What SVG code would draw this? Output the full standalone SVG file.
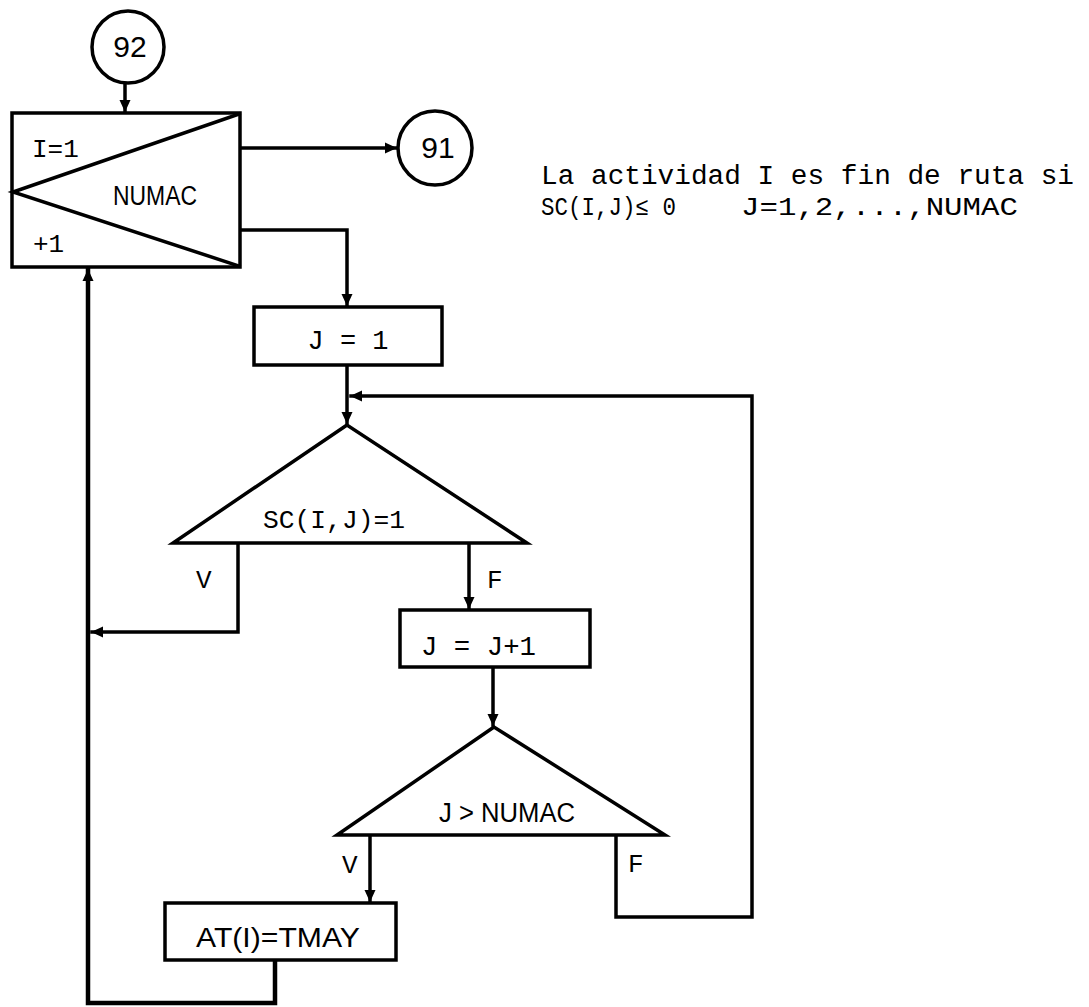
<svg xmlns="http://www.w3.org/2000/svg" width="1089" height="1007" viewBox="0 0 1089 1007">
<style>
.ln{fill:none;stroke:#000;stroke-width:3.5;stroke-linejoin:miter;stroke-linecap:square}
.sh{fill:#fff;stroke:#000;stroke-width:3.5}
.tw{font-family:"Liberation Mono","DejaVu Sans Mono",monospace;fill:#000}
.cn{font-family:"Liberation Sans Narrow","Liberation Sans",sans-serif;fill:#000}
.mid{text-anchor:middle}
</style>
<defs>
<marker id="ah" markerWidth="14" markerHeight="14" refX="11" refY="7" orient="auto" markerUnits="userSpaceOnUse"><path d="M0,1.5 L12,7 L0,12.5 z" fill="#000"/></marker>
</defs>
<rect width="1089" height="1007" fill="#fff"/>
<g id="connectors">
<line class="ln" x1="125" y1="84" x2="125" y2="111" marker-end="url(#ah)"/>
<line class="ln" x1="240" y1="148" x2="396" y2="148" marker-end="url(#ah)"/>
<polyline class="ln" points="240,230 347,230 347,305" marker-end="url(#ah)"/>
<line class="ln" x1="347" y1="365" x2="347" y2="423" marker-end="url(#ah)"/>
<polyline class="ln" points="238,543 238,632 92,632" marker-end="url(#ah)"/>
<line class="ln" x1="469" y1="543" x2="469" y2="608" marker-end="url(#ah)"/>
<line class="ln" x1="493" y1="667" x2="493" y2="725" marker-end="url(#ah)"/>
<line class="ln" x1="370" y1="835" x2="370" y2="901" marker-end="url(#ah)"/>
<polyline class="ln" points="616,835 616,917 752,917 752,396 351,396" marker-end="url(#ah)"/>
<polyline class="ln" points="275,960 275,1003 88,1003 88,270" style="stroke-width:4.5" marker-end="url(#ah)"/>
</g>
<g id="n92"><circle class="sh" cx="128" cy="47" r="36"/><text class="cn mid" x="130" y="57" font-size="30">92</text></g>
<g id="loop">
<rect class="sh" x="12" y="113" width="228" height="154"/>
<polyline class="ln" points="239,114 13,192 239,266"/>
<text class="tw" x="32" y="157" font-size="26">I=1</text>
<text class="cn" x="113" y="205" font-size="27" textLength="84" lengthAdjust="spacingAndGlyphs">NUMAC</text>
<text class="tw" x="33" y="252" font-size="26">+1</text>
</g>
<g id="n91"><circle class="sh" cx="435" cy="148" r="37"/><text class="cn mid" x="438" y="158" font-size="30">91</text></g>
<g id="note">
<text class="tw" x="541" y="184" font-size="27" textLength="533" lengthAdjust="spacingAndGlyphs">La actividad I es fin de ruta si</text>
<text class="tw" x="541" y="215" font-size="25" textLength="135" lengthAdjust="spacingAndGlyphs">SC(I,J)≤ 0</text>
<text class="tw" x="741" y="215" font-size="25" textLength="277" lengthAdjust="spacingAndGlyphs">J=1,2,...,NUMAC</text>
</g>
<g id="j1"><rect class="sh" x="254" y="307" width="188" height="58"/><text class="tw mid" x="348" y="349" font-size="27">J = 1</text></g>
<g id="d1"><polygon class="sh" points="347,425 173,543 527,543"/><text class="tw" x="263" y="528" font-size="26" textLength="142" lengthAdjust="spacingAndGlyphs">SC(I,J)=1</text></g>
<text class="tw" x="196" y="588" font-size="26">V</text>
<text class="tw" x="487" y="588" font-size="26">F</text>
<g id="jinc"><rect class="sh" x="400" y="610" width="190" height="57"/><text class="tw" x="421" y="655" font-size="27" textLength="115" lengthAdjust="spacingAndGlyphs">J = J+1</text></g>
<g id="d2"><polygon class="sh" points="494,727 337,835 665,835"/><text class="cn" x="439" y="822" font-size="27" textLength="136" lengthAdjust="spacingAndGlyphs">J &gt; NUMAC</text></g>
<text class="tw" x="342" y="873" font-size="26">V</text>
<text class="tw" x="628" y="872" font-size="26">F</text>
<g id="at"><rect class="sh" x="165" y="903" width="231" height="57"/><text class="cn" x="196" y="947" font-size="27" textLength="164" lengthAdjust="spacingAndGlyphs">AT(I)=TMAY</text></g>
</svg>
